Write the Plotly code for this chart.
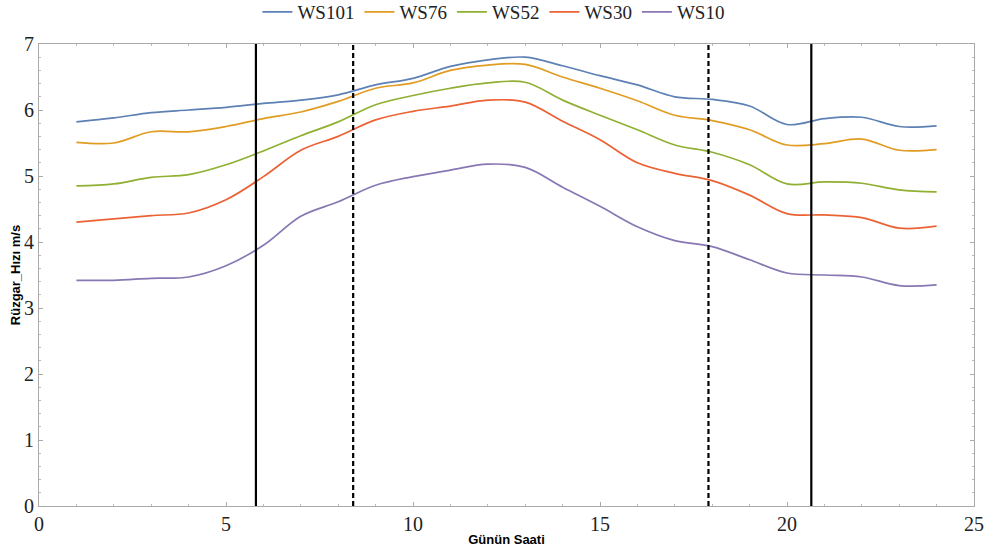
import plotly.graph_objects as go

hours = list(range(1, 25))
ws101 = [5.82, 5.88, 5.96, 6.00, 6.04, 6.10, 6.15, 6.23, 6.38, 6.48, 6.66, 6.76,
         6.80, 6.67, 6.52, 6.38, 6.20, 6.16, 6.06, 5.78, 5.87, 5.89, 5.75, 5.76]
ws76 = [5.51, 5.50, 5.67, 5.67, 5.75, 5.87, 5.97, 6.13, 6.33, 6.41, 6.60, 6.68,
        6.69, 6.50, 6.33, 6.14, 5.92, 5.84, 5.70, 5.47, 5.49, 5.56, 5.39, 5.40]
ws52 = [4.85, 4.88, 4.98, 5.02, 5.17, 5.38, 5.61, 5.82, 6.08, 6.22, 6.33, 6.41,
        6.42, 6.15, 5.92, 5.70, 5.47, 5.36, 5.17, 4.88, 4.91, 4.89, 4.79, 4.76]
ws30 = [4.30, 4.35, 4.40, 4.44, 4.64, 4.99, 5.39, 5.60, 5.85, 5.98, 6.06, 6.15,
        6.12, 5.83, 5.55, 5.20, 5.04, 4.93, 4.71, 4.43, 4.41, 4.37, 4.21, 4.24]
ws10 = [3.42, 3.42, 3.45, 3.47, 3.64, 3.95, 4.39, 4.61, 4.86, 4.99, 5.09, 5.18,
        5.13, 4.83, 4.54, 4.23, 4.02, 3.93, 3.73, 3.53, 3.50, 3.47, 3.34, 3.35]

series_names = ["WS101", "WS76", "WS52", "WS30", "WS10"]
series_values = [ws101, ws76, ws52, ws30, ws10]
colors = ["#5E81B5", "#E19C24", "#8FB032", "#EB6235", "#8778B3"]

solid_times = [5.80, 20.65]
dashed_times = [8.40, 17.90]

fig = go.Figure()
for name, vals, c in zip(series_names, series_values, colors):
    fig.add_trace(go.Scatter(x=hours, y=vals, name=name, mode="lines",
                             line=dict(color=c, width=1.7, shape="spline", smoothing=1.0)))

for t in solid_times:
    fig.add_shape(type="line", x0=t, x1=t, y0=0, y1=7, xref="x", yref="y",
                  line=dict(color="black", width=2.2))
for t in dashed_times:
    fig.add_shape(type="line", x0=t, x1=t, y0=0, y1=7, xref="x", yref="y",
                  line=dict(color="black", width=2.2, dash="5px,3px"))

serif = "Liberation Serif, Times New Roman, serif"
sans = "Liberation Sans, Arial, sans-serif"

axis_common = dict(
    showgrid=False, zeroline=False, showline=True, linecolor="#AAAAAA", linewidth=1,
    mirror="ticks", ticks="inside", ticklen=4, tickcolor="#AAAAAA",
    ticklabeloverflow="allow",
    tickfont=dict(family=serif, size=20, color="#222222"),
)

fig.update_layout(
    width=988, height=554,
    margin=dict(l=39, r=14, t=44, b=48, autoexpand=False),
    paper_bgcolor="white", plot_bgcolor="white",
    showlegend=True,
    legend=dict(orientation="h", x=0.486, xanchor="center", y=1.069, yanchor="middle",
                font=dict(family=serif, size=19, color="#222222"),
                itemwidth=30, bgcolor="rgba(0,0,0,0)"),
    xaxis=dict(range=[0, 25], tickvals=[0, 5, 10, 15, 20, 25],
               minor=dict(ticks="inside", ticklen=2, tickcolor="#BBBBBB", dtick=1),
               title=dict(text="<b>Günün Saati</b>", standoff=0,
                          font=dict(family=sans, size=13, color="black")),
               **axis_common),
    yaxis=dict(range=[0, 7], tickvals=[0, 1, 2, 3, 4, 5, 6, 7],
               minor=dict(ticks="inside", ticklen=2, tickcolor="#BBBBBB", dtick=0.2),
               title=dict(text="<b>Rüzgar_Hızı m/s</b>", standoff=0,
                          font=dict(family=sans, size=13, color="black")),
               **axis_common),
)

fig.write_html("out.html", config={"displayModeBar": False},
               post_script="document.body.style.margin='0px';")
